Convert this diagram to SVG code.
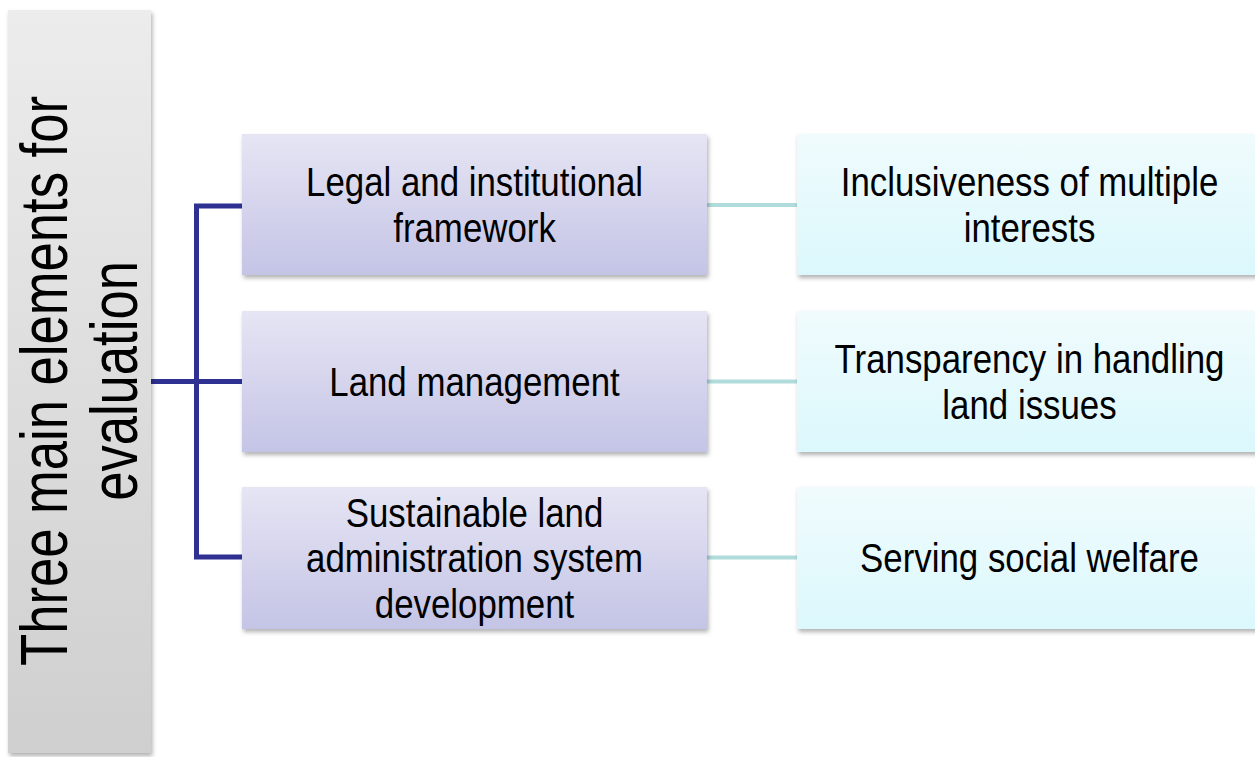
<svg xmlns="http://www.w3.org/2000/svg" width="1255" height="757" viewBox="0 0 1255 757">
<defs>
<linearGradient id="gGray" x1="0" y1="0" x2="0" y2="1"><stop offset="0" stop-color="#ececec"/><stop offset="1" stop-color="#cfcfcf"/></linearGradient>
<linearGradient id="gPurple" x1="0" y1="0" x2="0" y2="1"><stop offset="0" stop-color="#e6e5f4"/><stop offset="1" stop-color="#c4c4e6"/></linearGradient>
<linearGradient id="gCyan" x1="0" y1="0" x2="0" y2="1"><stop offset="0" stop-color="#f0fbfd"/><stop offset="1" stop-color="#dbf8fc"/></linearGradient>
<filter id="sh" x="-5%" y="-5%" width="115%" height="125%"><feDropShadow dx="1.5" dy="3" stdDeviation="2" flood-color="#000" flood-opacity="0.3"/></filter>
</defs>
<style>
.t{font-family:"Liberation Sans",Arial,sans-serif;font-size:41px;fill:#000;text-anchor:middle}
.big{font-family:"Liberation Sans",Arial,sans-serif;font-size:67px;fill:#000;text-anchor:middle}
.pur{fill:url(#gPurple);filter:url(#sh)}
.cyn{fill:url(#gCyan);filter:url(#sh)}
.main{stroke:#2e3192;stroke-width:5;fill:none}
.sub{stroke:#b0dcdc;stroke-width:4;fill:none}
</style>
<rect width="1255" height="757" fill="#fff"/>
<g id="connectors">
<path class="main" d="M242 206 H196.5 V557 H242 M151 381.5 H242"/>
<path class="sub" d="M707 205 H797 M707 381.5 H797 M707 557.5 H797"/>
</g>
<g id="root">
<rect x="8" y="10" width="143" height="743" fill="url(#gGray)" filter="url(#sh)"/>
<text class="big" transform="translate(0 381) rotate(-90) scale(0.785 1)"><tspan x="0" y="67">Three main elements for</tspan><tspan x="0" y="137">evaluation</tspan></text>
</g>
<g id="n1">
<rect class="pur" x="242" y="134" width="465" height="141"/>
<text class="t" transform="translate(474.5 0) scale(0.85 1)"><tspan x="0" y="196">Legal and institutional</tspan><tspan x="0" y="242">framework</tspan></text>
</g>
<g id="n2">
<rect class="pur" x="242" y="311" width="465" height="141"/>
<text class="t" transform="translate(474.5 0) scale(0.85 1)"><tspan x="0" y="396">Land management</tspan></text>
</g>
<g id="n3">
<rect class="pur" x="242" y="487" width="465" height="142"/>
<text class="t" transform="translate(474.5 0) scale(0.85 1)"><tspan x="0" y="527">Sustainable land</tspan><tspan x="0" y="572.5">administration system</tspan><tspan x="0" y="618">development</tspan></text>
</g>
<g id="r1">
<rect class="cyn" x="797" y="134" width="465" height="141"/>
<text class="t" transform="translate(1029.5 0) scale(0.85 1)"><tspan x="0" y="196">Inclusiveness of multiple</tspan><tspan x="0" y="242">interests</tspan></text>
</g>
<g id="r2">
<rect class="cyn" x="797" y="311" width="465" height="141"/>
<text class="t" transform="translate(1029.5 0) scale(0.85 1)"><tspan x="0" y="373">Transparency in handling</tspan><tspan x="0" y="419">land issues</tspan></text>
</g>
<g id="r3">
<rect class="cyn" x="797" y="487" width="465" height="142"/>
<text class="t" transform="translate(1029.5 0) scale(0.85 1)"><tspan x="0" y="572.5">Serving social welfare</tspan></text>
</g>
</svg>
